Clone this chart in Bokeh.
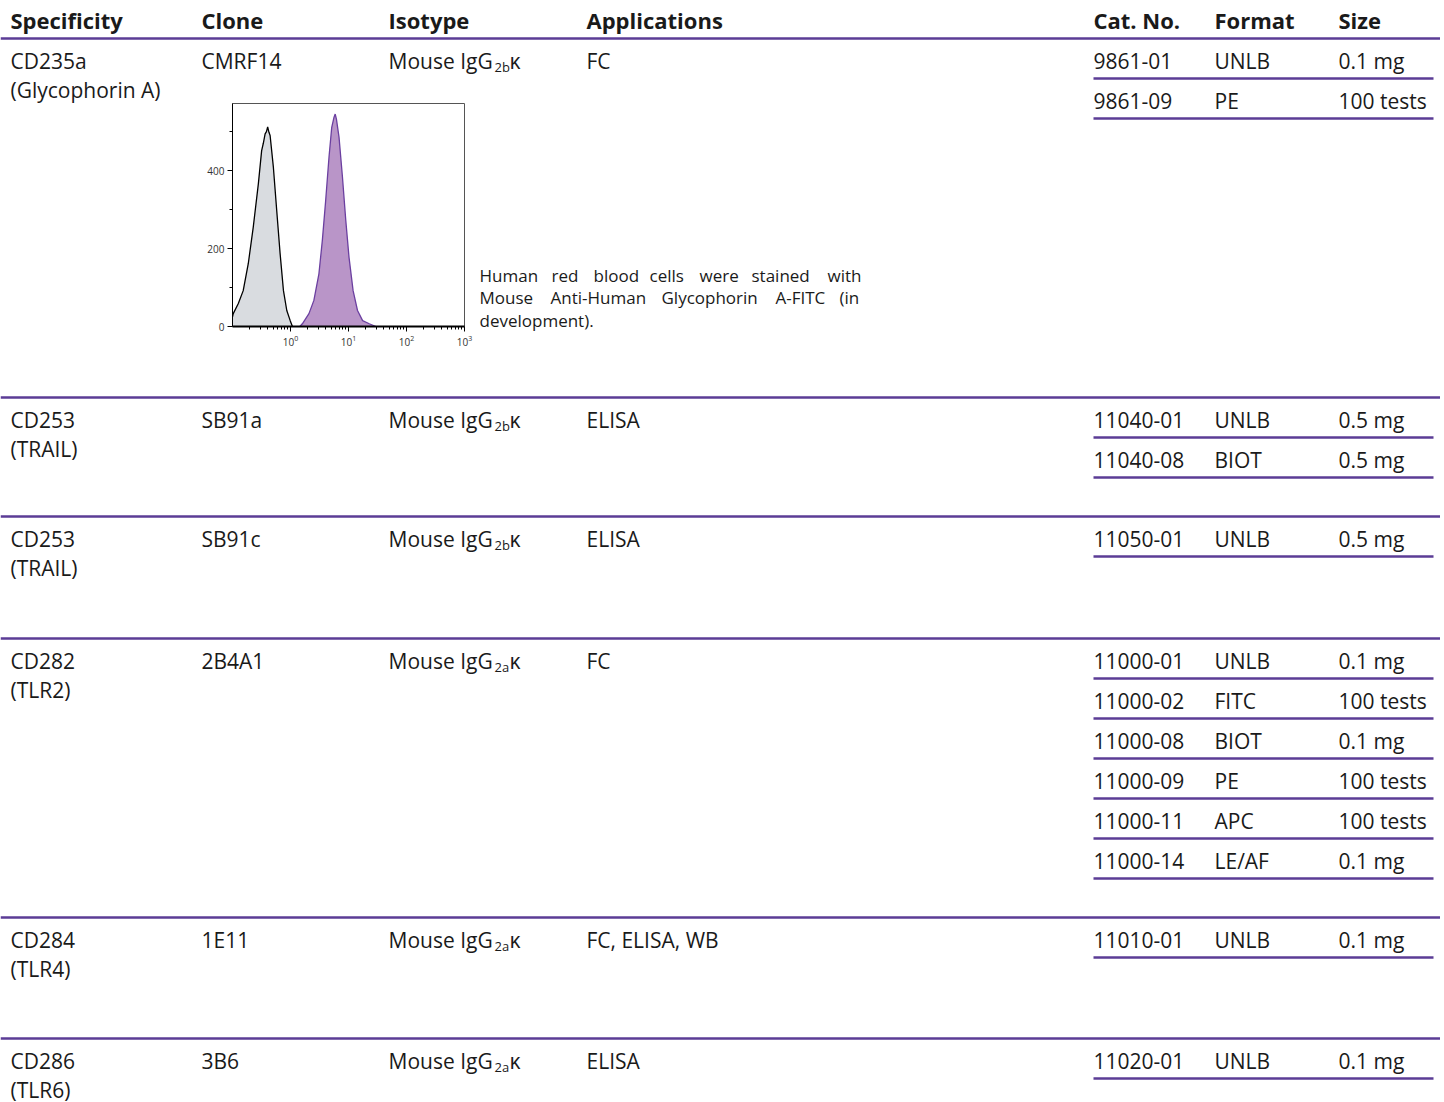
from bokeh.plotting import figure
from bokeh.models import FixedTicker
from bokeh.layouts import column, row
from bokeh.embed import file_html
from bokeh.resources import INLINE
from bokeh.core.properties import value

# ---------------- data ----------------
headers = ["Specificity", "Clone", "Isotype", "Applications", "Cat. No.", "Format", "Size"]
specificity = ["CD235a", "CD253", "CD253", "CD282", "CD284", "CD286"]
spec_alias = ["(Glycophorin A)", "(TRAIL)", "(TRAIL)", "(TLR2)", "(TLR4)", "(TLR6)"]
clones = ["CMRF14", "SB91a", "SB91c", "2B4A1", "1E11", "3B6"]
isotype_main = ["Mouse IgG"] * 6
isotype_sub = ["2b", "2b", "2b", "2a", "2a", "2a"]
isotype_light = ["κ"] * 6
applications = ["FC", "ELISA", "ELISA", "FC", "FC, ELISA, WB", "ELISA"]
cat_nos = [["9861-01", "9861-09"], ["11040-01", "11040-08"], ["11050-01"],
           ["11000-01", "11000-02", "11000-08", "11000-09", "11000-11", "11000-14"],
           ["11010-01"], ["11020-01"]]
formats = [["UNLB", "PE"], ["UNLB", "BIOT"], ["UNLB"],
           ["UNLB", "FITC", "BIOT", "PE", "APC", "LE/AF"], ["UNLB"], ["UNLB"]]
sizes = [["0.1 mg", "100 tests"], ["0.5 mg", "0.5 mg"], ["0.5 mg"],
         ["0.1 mg", "100 tests", "0.1 mg", "100 tests", "100 tests", "0.1 mg"],
         ["0.1 mg"], ["0.1 mg"]]
caption_lines = [["Human", "red", "blood", "cells", "were", "stained", "with"],
                 ["Mouse", "Anti-Human", "Glycophorin", "A-FITC", "(in"],
                 ["development)."]]

# histogram (fluorescence intensity, log scale; event counts)
gray_x = [0.100, 0.103, 0.126, 0.153, 0.187, 0.228, 0.279, 0.318, 0.340, 0.365, 0.385,
          0.404, 0.425, 0.445, 0.507, 0.579, 0.662, 0.756, 0.863, 0.989, 1.08]
gray_y = [25, 33, 59, 92, 161, 255, 366, 451, 470, 494, 500, 512, 498, 490, 408, 297,
          187, 92, 41, 15, 0]
purple_x = [1.45, 1.60, 2.08, 2.53, 3.09, 3.54, 4.04, 4.61, 5.14, 5.63, 5.90, 6.19, 6.87,
            7.87, 8.98, 10.2, 12.0, 14.3, 17.5, 22.8, 29.7]
purple_y = [0, 7, 33, 67, 135, 221, 323, 434, 511, 537, 545, 532, 485, 383, 272, 178,
            92, 41, 15, 7, 0]
hist_x_ticks = [1, 10, 100, 1000]
hist_y_ticks = [0, 200, 400]
hist_y_minor = [100, 300, 500]

# ---------------- layout / style ----------------
PURPLE = "#5b3c96"
INK = "#1a1a1a"
FONT = "Open Sans"
W, H = 1440, 1102
col_x = [10, 201, 388, 586, 1093, 1214, 1338]
row_tops = [38, 397, 516, 638, 917, 1038]
cat_line_x0, cat_line_x1 = 1093, 1433
header_y = 19
first_off = 22
spec_gap = 29
sub_gap = 40
line_off = 18
BODY = "21px"
SUB = "13px"

p = figure(width=W, height=H, x_range=(0, W), y_range=(H, 0),
           x_axis_type=None, y_axis_type=None, output_backend="svg",
           toolbar_location=None, min_border=0, title=None)
p.grid.visible = False
p.outline_line_color = None

# header
p.text(x=col_x, y=[header_y] * len(headers), text=headers,
       text_font=value(FONT), text_font_style="bold", text_font_size="22px",
       text_color=INK, text_baseline="middle", text_align="left")

# separators
p.segment(x0=[0] * len(row_tops), y0=row_tops, x1=[W] * len(row_tops), y1=row_tops,
          line_color=PURPLE, line_width=2.5)

tx, ty, tt = [], [], []
sx, sy, st = [], [], []
kx, ky, kt = [], [], []
ly = []
for i, top in enumerate(row_tops):
    y1 = top + first_off
    tx += [col_x[0], col_x[0], col_x[1], col_x[2], col_x[3]]
    ty += [y1, y1 + spec_gap, y1, y1, y1]
    tt += [specificity[i], spec_alias[i], clones[i], isotype_main[i], applications[i]]
    sx.append(col_x[2] + 106)
    sy.append(y1 + 6)
    st.append(isotype_sub[i])
    kx.append(col_x[2] + 121)
    ky.append(y1)
    kt.append(isotype_light[i])
    for j in range(len(cat_nos[i])):
        yy = y1 + j * sub_gap
        tx += [col_x[4], col_x[5], col_x[6]]
        ty += [yy, yy, yy]
        tt += [cat_nos[i][j], formats[i][j], sizes[i][j]]
        ly.append(yy + line_off)

p.text(x=tx, y=ty, text=tt, text_font=value(FONT), text_font_size=BODY,
       text_color=INK, text_baseline="middle", text_align="left")
p.text(x=sx, y=sy, text=st, text_font=value(FONT), text_font_size=SUB,
       text_color=INK, text_baseline="middle", text_align="left")
p.text(x=kx, y=ky, text=kt, text_font=value(FONT), text_font_size=BODY,
       text_color=INK, text_baseline="middle", text_align="left")
p.segment(x0=[cat_line_x0] * len(ly), y0=ly, x1=[cat_line_x1] * len(ly), y1=ly,
          line_color=PURPLE, line_width=2.5)

# caption (justified words)
cap_word_x = [[479, 551, 593, 649, 699, 751, 827],
              [479, 550, 661, 775, 839],
              [479]]
cap_y = [275, 297, 320]
cx, cy, ct = [], [], []
for li, words in enumerate(caption_lines):
    for wi, w in enumerate(words):
        cx.append(cap_word_x[li][wi])
        cy.append(cap_y[li])
        ct.append(w)
p.text(x=cx, y=cy, text=ct, text_font=value(FONT), text_font_size="17px",
       text_color=INK, text_baseline="middle", text_align="left")

# ---------------- histogram ----------------
HL, HR, HT, HB = 40, 15, 5, 30
frame_left, frame_top = 232, 103
frame_w, frame_h = 232, 223
h = figure(width=HL + frame_w + HR, height=HT + frame_h + HB,
           x_axis_type="log", x_range=(0.1, 1000), y_range=(0, 572),
           output_backend="svg", toolbar_location=None, title=None,
           min_border_left=HL, min_border_right=HR, min_border_top=HT,
           min_border_bottom=HB)
h.grid.visible = False
h.outline_line_color = "#555555"
h.outline_line_width = 1
h.border_fill_alpha = 0
h.background_fill_color = "white"

h.varea(x=gray_x, y1=[0] * len(gray_x), y2=gray_y, fill_color="#d9dce0")
h.line(x=gray_x, y=gray_y, line_color="black", line_width=1.3)
h.varea(x=purple_x, y1=[0] * len(purple_x), y2=purple_y, fill_color="#b995c8")
h.line(x=purple_x, y=purple_y, line_color="#6b3fa0", line_width=1.3)

minor_x = []
for d in [0.1, 1, 10, 100]:
    minor_x += [d * k for k in range(2, 10)]
h.xaxis.ticker = FixedTicker(ticks=hist_x_ticks, minor_ticks=minor_x)
h.yaxis.ticker = FixedTicker(ticks=hist_y_ticks, minor_ticks=hist_y_minor)
for ax in [h.xaxis, h.yaxis]:
    ax.major_label_text_font = FONT
    ax.major_label_text_font_size = "10px"
    ax.major_label_text_color = "#333333"
    ax.axis_line_color = "black"
    ax.major_tick_line_color = "black"
    ax.minor_tick_line_color = "black"
    ax.major_tick_in = 0
    ax.major_tick_out = 5
    ax.minor_tick_in = 0
    ax.minor_tick_out = 3
h.xaxis.axis_line_width = 2
h.yaxis.axis_line_width = 1
h.xaxis.major_label_standoff = 3
h.yaxis.major_label_standoff = 3

hist_box = row(h)
hist_box.margin = (frame_top - HT - H, 0, 0, frame_left - HL)

layout = column(p, hist_box, spacing=0)
open("out.html", "w").write(file_html(layout, INLINE))
